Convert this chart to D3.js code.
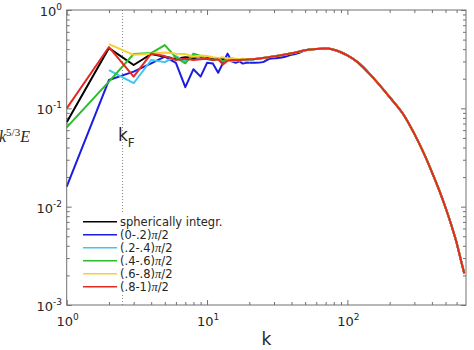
<!DOCTYPE html>
<html>
<head>
<meta charset="utf-8">
<script src="https://cdn.jsdelivr.net/npm/d3@7"></script>
<style>
  body { margin: 0; background: #fff; }
  text { font-family: "DejaVu Sans", sans-serif; fill: #262626; }
</style>
</head>
<body>
<script>
const svgWidth = 474;
const svgHeight = 350;

// wavenumbers
const kLow = [1, 2, 3, 4, 5, 6, 7, 8, 9, 10, 11, 12, 13, 14, 15, 16, 17, 18, 19, 20];
const kMid = [22, 25, 28, 32, 36, 40, 45];
const kTail = [50, 60, 70, 80, 90, 100, 120, 150, 200, 250, 300, 350, 400, 450, 500, 550, 600, 650, 680];

// k^(5/3) E, low-k part per series (null = not shown)
const blackLow  = [0.072, 0.41, 0.276, 0.357, 0.335, 0.32, 0.33, 0.325, 0.33, 0.325, 0.32, 0.325, 0.315, 0.32, 0.315, 0.315, 0.31, 0.312, 0.313, 0.315];
const blueLow   = [0.016, 0.194, 0.236, 0.287, 0.335, 0.29, 0.164, 0.25, 0.21, 0.29, 0.285, 0.23, 0.29, 0.36, 0.30, 0.29, 0.30, 0.285, 0.29, 0.29];
const cyanLow   = [null, 0.245, 0.18, 0.31, 0.295, 0.34, 0.30, 0.345, 0.32, 0.315, 0.31, 0.32, 0.30, 0.315, 0.30, 0.31, 0.305, 0.31, 0.305, 0.31];
const greenLow  = [0.064, 0.187, 0.357, 0.365, 0.44, 0.33, 0.287, 0.36, 0.34, 0.32, 0.31, 0.315, 0.30, 0.31, 0.32, 0.315, 0.31, 0.32, 0.315, 0.315];
const yellowLow = [null, 0.45, 0.35, 0.36, 0.37, 0.36, 0.357, 0.335, 0.345, 0.34, 0.33, 0.325, 0.33, 0.32, 0.325, 0.32, 0.315, 0.318, 0.316, 0.317];
const redLow    = [0.10, 0.42, 0.21, 0.36, 0.34, 0.31, 0.32, 0.31, 0.315, 0.32, 0.31, 0.315, 0.28, 0.305, 0.31, 0.31, 0.31, 0.312, 0.313, 0.315];

const commonMid = [0.318, 0.325, 0.332, 0.342, 0.352, 0.363, 0.377];
const blueMid   = [0.29, 0.295, 0.32, 0.325, 0.335, 0.35, 0.365];
const commonTail = [0.39, 0.402, 0.405, 0.395, 0.372, 0.345, 0.29, 0.21, 0.13, 0.087, 0.055, 0.035, 0.0225, 0.0148, 0.0098, 0.0065, 0.0043, 0.0027, 0.0021];

const names = ['spherically integr.', '(0-.2)', '(.2-.4)', '(.4-.6)', '(.6-.8)', '(.8-1)'];
const colors = ['#000000', '#1c1ce0', '#3cc8ee', '#2cbd2c', '#f5d030', '#e22a22'];

const kF = 2.5;
const xTicks = [1, 10, 100];
const yTicks = [1, 0.1, 0.01, 0.001];

const lowSets = [blackLow, blueLow, cyanLow, greenLow, yellowLow, redLow];
const midSets = [commonMid, blueMid, commonMid, commonMid, commonMid, commonMid];

const plotL = 66.7, plotR = 466, plotT = 10, plotB = 305;

const svg = d3.select('body')
              .append('svg')
              .attr('width', svgWidth)
              .attr('height', svgHeight);

const x = d3.scaleLog().domain([1, 700]).range([plotL, plotR]);
const y = d3.scaleLog().domain([1e-3, 1]).range([plotB, plotT]);

// minor tick values
let xMinor = [];
[1, 10, 100].forEach(d => { for (let m = 2; m <= 9; m++) if (d * m < 700) xMinor.push(d * m); });
let yMinor = [];
[0.001, 0.01, 0.1].forEach(d => { for (let m = 2; m <= 9; m++) yMinor.push(d * m); });

const axisColor = '#707070';
function tickAxis(gen, pos, vals, size) {
  const g = svg.append('g')
     .attr('transform', pos)
     .call(gen.tickValues(vals).tickSize(size).tickFormat(''));
  g.select('.domain').remove();
  g.selectAll('line').attr('stroke', axisColor);
}
tickAxis(d3.axisBottom(x), `translate(0,${plotB})`, xTicks, -5);
tickAxis(d3.axisBottom(x), `translate(0,${plotB})`, xMinor, -3);
tickAxis(d3.axisTop(x), `translate(0,${plotT})`, xTicks, -5);
tickAxis(d3.axisTop(x), `translate(0,${plotT})`, xMinor, -3);
tickAxis(d3.axisLeft(y), `translate(${plotL},0)`, yTicks, -5);
tickAxis(d3.axisLeft(y), `translate(${plotL},0)`, yMinor, -3);
tickAxis(d3.axisRight(y), `translate(${plotR},0)`, yTicks, -5);
tickAxis(d3.axisRight(y), `translate(${plotR},0)`, yMinor, -3);

// kF dotted line
svg.append('line')
   .attr('x1', x(kF)).attr('x2', x(kF))
   .attr('y1', plotT).attr('y2', plotB)
   .attr('stroke', '#888')
   .attr('stroke-width', 1)
   .attr('stroke-dasharray', '1,2');

// curves: straight segments at low k, smooth over the shared tail
const lineLow = d3.line()
               .defined(d => d[1] != null)
               .x(d => x(d[0]))
               .y(d => y(d[1]));
const lineTail = d3.line()
               .x(d => x(d[0]))
               .y(d => y(d[1]))
               .curve(d3.curveMonotoneX);

const kRest = [kLow[kLow.length - 1]].concat(kMid, kTail);
lowSets.forEach((low, i) => {
  const rest = [low[low.length - 1]].concat(midSets[i], commonTail);
  const g = svg.append('g')
     .attr('fill', 'none')
     .attr('stroke', colors[i])
     .attr('stroke-width', 2)
     .attr('stroke-linejoin', 'round');
  g.append('path')
   .datum(kLow.map((k, j) => [k, low[j]]))
   .attr('d', lineLow);
  g.append('path')
   .datum(kRest.map((k, j) => [k, rest[j]]))
   .attr('d', lineTail);
});

// box
svg.append('rect')
   .attr('x', plotL).attr('y', plotT)
   .attr('width', plotR - plotL).attr('height', plotB - plotT)
   .attr('fill', 'none')
   .attr('stroke', axisColor)
   .attr('stroke-width', 1);

// tick labels
xTicks.forEach(t => {
  const tx = svg.append('text')
     .attr('x', x(t) + 1).attr('y', 326)
     .attr('text-anchor', 'middle')
     .attr('font-size', 13);
  tx.append('tspan').text('10');
  tx.append('tspan').attr('dy', -6).attr('font-size', 9).text(Math.round(Math.log10(t)));
});
yTicks.forEach(t => {
  const ty = svg.append('text')
     .attr('x', 62).attr('y', y(t) + 6)
     .attr('text-anchor', 'end')
     .attr('font-size', 13);
  ty.append('tspan').text('10');
  ty.append('tspan').attr('dy', -6).attr('font-size', 9).text(String(Math.round(Math.log10(t))));
});

// axis labels
svg.append('text')
   .attr('x', (plotL + plotR) / 2).attr('y', 345)
   .attr('text-anchor', 'middle')
   .attr('font-size', 17)
   .text('k');

const yl = svg.append('text')
   .attr('x', -1).attr('y', 142)
   .attr('font-style', 'italic')
   .attr('font-size', 16)
   .style('font-family', '"Liberation Serif", serif');
yl.append('tspan').text('k');
yl.append('tspan').attr('dy', -6).attr('font-size', 11).attr('font-style', 'normal').text('5/3');
yl.append('tspan').attr('dy', 6).text('E');

const kl = svg.append('text')
   .attr('x', 118).attr('y', 141)
   .attr('font-size', 17);
kl.append('tspan').text('k');
kl.append('tspan').attr('dy', 6).attr('font-size', 12).text('F');

// legend
const legend = svg.append('g');
legend.append('rect')
      .attr('x', 79).attr('y', 214)
      .attr('width', 158).attr('height', 80)
      .attr('fill', '#fff');
names.forEach((n, i) => {
  const ly = 221.7 + i * 13;
  legend.append('line')
        .attr('x1', 83).attr('x2', 117)
        .attr('y1', ly).attr('y2', ly)
        .attr('stroke', colors[i])
        .attr('stroke-width', 1.5);
  const t = legend.append('text')
        .attr('x', 120).attr('y', ly + 4)
        .attr('font-size', 11.5);
  t.append('tspan').text(n);
  if (i > 0) {
    t.append('tspan')
     .style('font-family', '"Liberation Serif", serif')
     .attr('font-style', 'italic')
     .attr('font-size', 12.5)
     .text('\u03c0');
    t.append('tspan').text('/2');
  }
});
</script>
</body>
</html>
